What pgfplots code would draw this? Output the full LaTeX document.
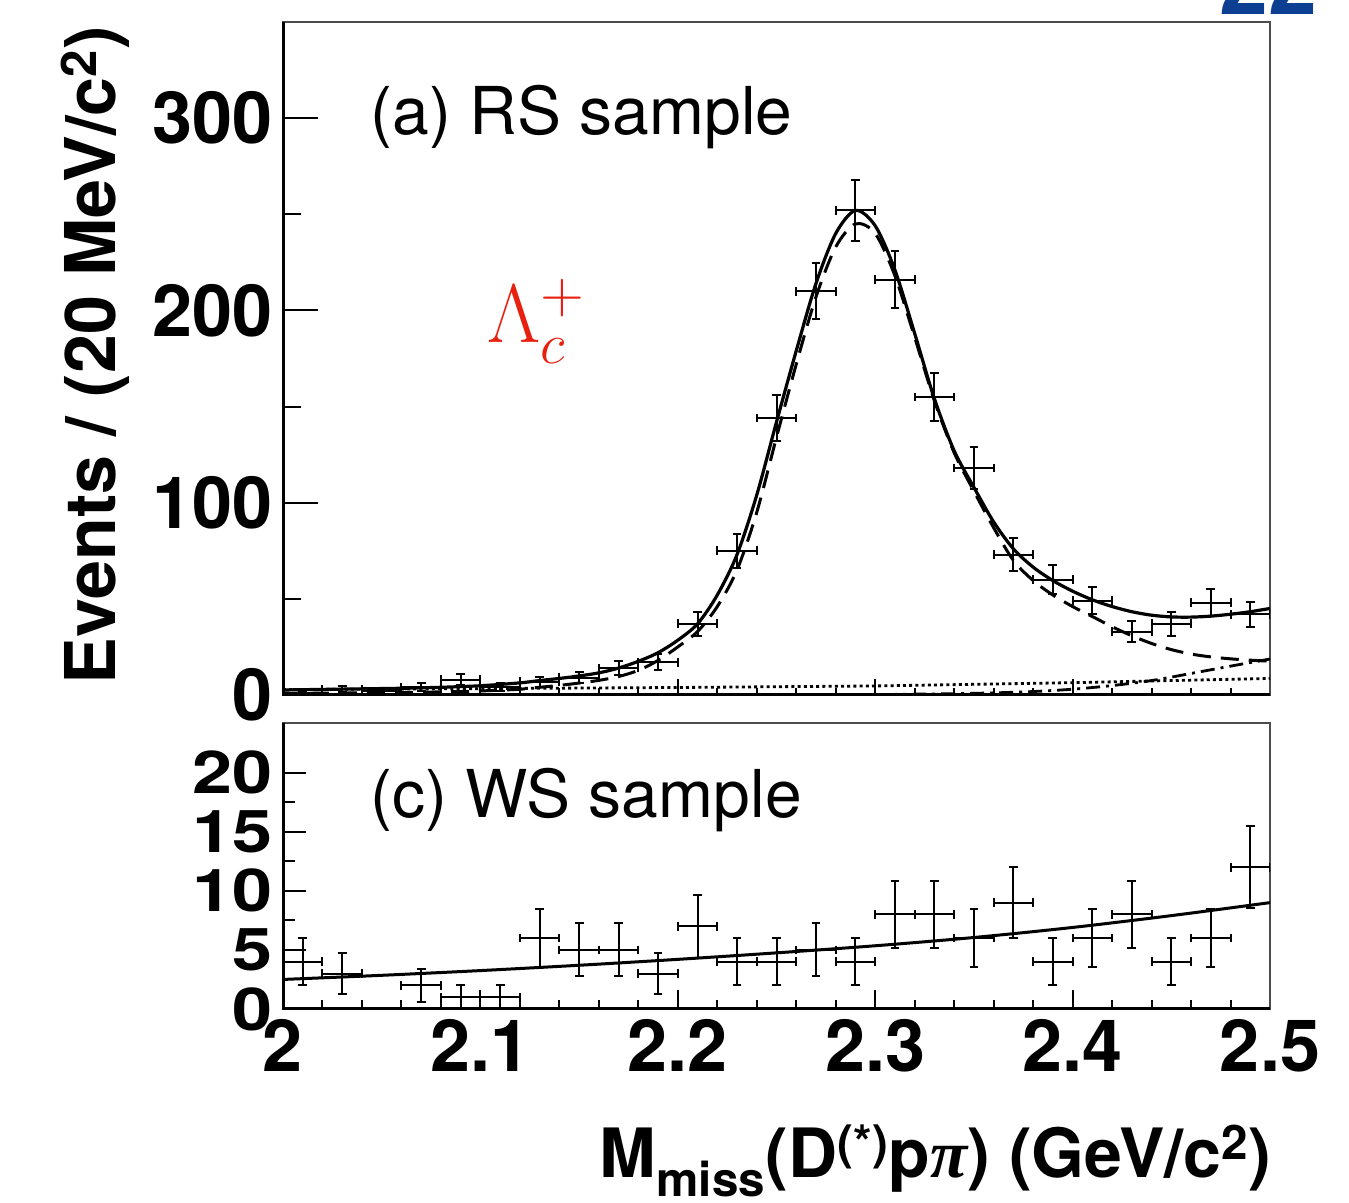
\documentclass[border=0pt]{standalone}
\usepackage{pgfplots}
\pgfplotsset{compat=1.18}
\usepackage{pgfplotstable}
\usepackage{fontspec}
\setmainfont{TeX Gyre Heros}
\newfontfamily\seriffont{Liberation Serif}
\definecolor{lamred}{RGB}{232,32,16}
\definecolor{slideblue}{RGB}{12,62,146}
\newcommand{\tickfont}{\fontsize{36}{36}\selectfont\bfseries}

\pgfplotstableread{
x y ex ey
2.01 1 0.01 1.0
2.03 3 0.01 1.7
2.05 2 0.01 1.4
2.07 4 0.01 2.0
2.09 8 0.01 2.8
2.11 4 0.01 2.0
2.13 7 0.01 2.6
2.15 9 0.01 3.0
2.17 14 0.01 3.7
2.19 17 0.01 4.1
2.21 37 0.01 6.1
2.23 75 0.01 8.7
2.25 144 0.01 12.0
2.27 210 0.01 14.5
2.29 252 0.01 15.9
2.31 216 0.01 14.7
2.33 155 0.01 12.4
2.35 118 0.01 10.9
2.37 73 0.01 8.5
2.39 60 0.01 7.7
2.41 49 0.01 7.0
2.43 33 0.01 5.7
2.45 37 0.01 6.1
2.47 48 0.01 6.9
2.49 42 0.01 6.5
}\rsdata

\pgfplotstableread{
x y
2.00 2.6
2.02 2.9
2.04 3.2
2.06 3.5
2.08 4.0
2.10 4.8
2.12 6.3
2.13 7.5
2.14 8.6
2.15 9.9
2.16 11.5
2.17 14
2.18 17.5
2.19 22
2.20 28.5
2.21 37
2.22 52
2.23 73
2.24 104
2.25 142
2.26 179
2.27 214
2.28 240
2.29 252
2.30 244
2.31 221
2.32 188
2.33 154
2.34 127
2.35 108
2.36 90
2.37 76
2.38 66.5
2.39 59.5
2.40 54
2.41 49.5
2.42 46
2.43 43.3
2.44 41.5
2.45 40.6
2.46 40.5
2.47 41
2.48 42
2.49 43.3
2.50 45
}\rstotal

\pgfplotstableread{
x y
2.00 0.8
2.04 1.1
2.08 1.6
2.10 2.1
2.12 3.0
2.13 4.0
2.14 5.0
2.15 6.2
2.16 7.6
2.17 9.6
2.18 12.8
2.19 18
2.20 25
2.21 33
2.22 46
2.23 65
2.24 95
2.25 134
2.26 172
2.27 207
2.28 233
2.29 245
2.30 240
2.31 218
2.32 186
2.33 153
2.34 126
2.35 106
2.36 87
2.37 70
2.38 59.5
2.39 52
2.40 46
2.41 40.8
2.42 35.5
2.43 30.8
2.44 26.8
2.45 23.6
2.46 21.3
2.47 19.8
2.48 18.8
2.49 18.1
2.50 17.6
}\rsdashed

\pgfplotstableread{
x y
2.00 2.8
2.10 3.3
2.20 3.9
2.30 4.7
2.40 6.4
2.50 8.6
}\rsdotted

\pgfplotstableread{
x y
2.26 0.0
2.30 0.2
2.34 0.7
2.36 1.1
2.38 1.8
2.40 3.0
2.42 4.9
2.44 7.5
2.46 11.2
2.48 15.0
2.50 18.7
}\rsdashdot

\pgfplotstableread{
x y ex ey
2.01 4 0.01 2.0
2.03 3 0.01 1.73
2.07 2 0.01 1.41
2.09 1 0.01 1.0
2.11 1 0.01 1.0
2.13 6 0.01 2.45
2.15 5 0.01 2.24
2.17 5 0.01 2.24
2.19 3 0.01 1.73
2.21 7 0.01 2.65
2.23 4 0.01 2.0
2.25 4 0.01 2.0
2.27 5 0.01 2.24
2.29 4 0.01 2.0
2.31 8 0.01 2.83
2.33 8 0.01 2.83
2.35 6 0.01 2.45
2.37 9 0.01 3.0
2.39 4 0.01 2.0
2.41 6 0.01 2.45
2.43 8 0.01 2.83
2.45 4 0.01 2.0
2.47 6 0.01 2.45
2.49 12 0.01 3.46
}\wsdata

\pgfplotstableread{
x y
2.00 2.5
2.05 2.85
2.10 3.25
2.15 3.7
2.20 4.2
2.25 4.75
2.30 5.35
2.35 6.05
2.40 6.9
2.45 7.9
2.50 9.0
}\wsfit

\begin{document}
\begin{tikzpicture}
\path[use as bounding box] (0,0) rectangle (674.5pt,601.5pt);

% slide page number (cut off at the top)
\node[anchor=base east, text=slideblue, font=\fontsize{44}{44}\selectfont\bfseries, inner sep=0pt] at (659pt,594pt) {22};

% ---------------- top panel ----------------
\begin{axis}[
  at={(141.5pt,254pt)}, anchor=south west, scale only axis,
  width=493.5pt, height=336.5pt,
  xmin=2, xmax=2.5, ymin=0, ymax=350,
  clip mode=individual,
  axis line style={line width=0.7pt, black!70},
  xtick=\empty,
  ytick={0,100,200,300}, yticklabels={0,100,200,300},
  minor y tick num=1,
  ytick pos=left, tick align=inside,
  major tick length=17.5pt, minor tick length=9pt,
  ytick style={line width=1pt, black},
  minor y tick style={line width=1pt, black},
  yticklabel style={font=\tickfont, inner sep=1pt, xshift=-4pt},
]
\addplot[black, line width=1.4pt, dash pattern=on 1.5pt off 1.6pt] table[x=x,y=y] {\rsdotted};
\addplot[black, line width=1.4pt, dash pattern=on 7pt off 3pt on 1.5pt off 3pt, smooth] table[x=x,y=y] {\rsdashdot};
\addplot[black, line width=1.5pt, dash pattern=on 9pt off 5pt, smooth] table[x=x,y=y] {\rsdashed};
\addplot[black, line width=1.6pt, smooth] table[x=x,y=y] {\rstotal};
\addplot[draw=none, mark=none,
  error bars/.cd, x dir=both, x explicit, y dir=both, y explicit,
  error bar style={draw=black, solid, line width=1pt},
  error mark options={draw=black, solid, line width=1pt, mark size=2.2pt, rotate=90}]
  table[x=x, y=y, x error=ex, y error=ey] {\rsdata};
\pgfplotsinvokeforeach{2.02,2.04,2.06,2.08,2.12,2.14,2.16,2.18,2.22,2.24,2.26,2.28,2.32,2.34,2.36,2.38,2.42,2.44,2.46,2.48}{
  \draw[line width=1pt] (axis cs:#1,0) -- ([yshift=3.5pt]axis cs:#1,0);
}
\pgfplotsinvokeforeach{2.1,2.2,2.3,2.4}{
  \draw[line width=1pt] (axis cs:#1,0) -- ([yshift=8pt]axis cs:#1,0);
}
\draw[line width=1.5pt] (rel axis cs:0,1) -- (rel axis cs:0,0) -- (rel axis cs:1,0);
\end{axis}

% ---------------- bottom panel ----------------
\begin{axis}[
  at={(141.5pt,97pt)}, anchor=south west, scale only axis,
  width=493.5pt, height=143pt,
  xmin=2, xmax=2.5, ymin=0, ymax=24.2,
  clip mode=individual,
  axis line style={line width=0.7pt, black!70},
  xtick={2,2.1,2.2,2.3,2.4,2.5}, xticklabels={2,2.1,2.2,2.3,2.4,2.5},
  xtick style={draw=none},
  ytick={0,5,10,15,20}, yticklabels={0,5,10,15,20},
  minor y tick num=1,
  ytick pos=left, xtick pos=bottom, tick align=inside,
  major tick length=11.5pt, minor tick length=6pt,
  ytick style={line width=1pt, black},
  minor y tick style={line width=1pt, black},
  yticklabel style={font=\tickfont, inner sep=1pt, xshift=-4pt, yscale=0.82},
  xticklabel style={font=\tickfont, inner sep=1pt, yshift=-4pt},
]
\addplot[black, line width=1.5pt, smooth] table[x=x,y=y] {\wsfit};
\addplot[draw=none, mark=none,
  error bars/.cd, x dir=both, x explicit, y dir=both, y explicit,
  error bar style={draw=black, solid, line width=1pt},
  error mark options={draw=black, solid, line width=1pt, mark size=2.2pt, rotate=90}]
  table[x=x, y=y, x error=ex, y error=ey] {\wsdata};
\pgfplotsinvokeforeach{2.02,2.04,2.06,2.08,2.12,2.14,2.16,2.18,2.22,2.24,2.26,2.28,2.32,2.34,2.36,2.38,2.42,2.44,2.46,2.48}{
  \draw[line width=1pt] (axis cs:#1,0) -- ([yshift=4.5pt]axis cs:#1,0);
}
\pgfplotsinvokeforeach{2.1,2.2,2.3,2.4}{
  \draw[line width=1pt] (axis cs:#1,0) -- ([yshift=9.5pt]axis cs:#1,0);
}
\draw[line width=1.5pt] (rel axis cs:0,1) -- (rel axis cs:0,0) -- (rel axis cs:1,0);
\end{axis}

% texts
\node[anchor=base west, font=\fontsize{33}{33}\selectfont, inner sep=0pt] at (185pt,534pt) {(a) RS sample};
\node[anchor=base west, font=\fontsize{33}{33}\selectfont, inner sep=0pt] at (185pt,192.5pt) {(c) WS sample};
\node[anchor=base west, text=lamred, font=\fontsize{20}{20}\selectfont, inner sep=0pt, scale=2, transform shape] at (243.5pt,430pt) {$\Lambda_c^+$};
\node[rotate=90, anchor=base, font=\fontsize{35}{35}\selectfont\bfseries, inner sep=0pt] at (57.5pt,424pt) {Events / (20 MeV/c\textsuperscript{2})};
\node[anchor=base east, font=\fontsize{34}{34}\selectfont\bfseries, inner sep=0pt] at (636pt,12.5pt) {M\textsubscript{miss}(D\textsuperscript{(*)}p{\seriffont\itshape π}) (GeV/c\textsuperscript{2})};
\end{tikzpicture}
\end{document}
